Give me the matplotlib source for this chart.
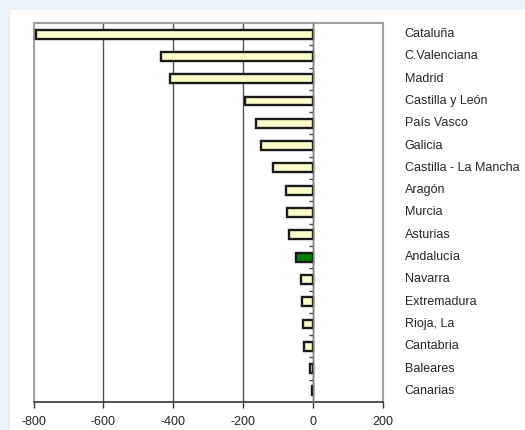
import matplotlib
matplotlib.use("Agg")
import matplotlib.pyplot as plt
from matplotlib.patches import Rectangle
import matplotlib.transforms as mtransforms
import numpy as np

regions = ["Cataluña", "C.Valenciana", "Madrid", "Castilla y León", "País Vasco",
           "Galicia", "Castilla - La Mancha", "Aragón", "Murcia", "Asturias",
           "Andalucía", "Navarra", "Extremadura", "Rioja, La", "Cantabria",
           "Baleares", "Canarias"]
values = [-793, -435, -409, -194, -162, -149, -113, -77, -73, -68,
          -48, -33, -31, -27, -25, -8, -2]
highlight = "Andalucía"
xticks = [-800, -600, -400, -200, 0, 200]

plt.rcParams['font.family'] = ['Liberation Sans', 'DejaVu Sans']

fig = plt.figure(figsize=(5.25, 4.3), dpi=100)
fig.patch.set_facecolor('#EAF2FA')
fig.patches.append(Rectangle((10/525, 0), 1, 1 - 10/430, transform=fig.transFigure,
                             facecolor='white', edgecolor='none', zorder=-10))

ax = fig.add_axes([33.5/525, 1 - 402/430, (382.5 - 33.5)/525, (402 - 23)/430])
ax.set_facecolor('white')

n = len(regions)
ypos = np.arange(n)
colors = ['#008000' if r == highlight else '#FFFFCC' for r in regions]
ax.barh(ypos, values, height=0.4, color=colors, edgecolor='#1a1a1a', linewidth=1.7, zorder=3)

ax.set_xlim(xticks[0], xticks[-1])
ax.set_ylim(n - 0.5, -0.5)
ax.set_xticks(xticks)
ax.set_xticklabels([str(t) for t in xticks], fontsize=9)
ax.tick_params(axis='x', direction='out', length=4, width=1, color='#333333', pad=6, labelcolor='#262626')

for t in xticks[1:-1]:
    ax.axvline(t, color='#555555', linewidth=1, zorder=1)

# spines
for s in ['top', 'right']:
    ax.spines[s].set_color('#a0a0a0')
    ax.spines[s].set_linewidth(1.5)
ax.spines['bottom'].set_color('#333333')
ax.spines['bottom'].set_linewidth(1.2)
ax.spines['left'].set_position(('data', 0))
ax.spines['left'].set_color('#808080')
ax.spines['left'].set_linewidth(1)
ax.spines['left'].set_zorder(4)
ax.add_patch(Rectangle((0, 0), 0, 1, transform=ax.transAxes, fill=False,
                       edgecolor='#a0a0a0', linewidth=1.5, clip_on=False, zorder=2))

ax.set_yticks(ypos[:-1] + 0.5)
ax.set_yticklabels([])
ax.tick_params(axis='y', direction='out', length=3, width=1, color='#444444')

trans = mtransforms.blended_transform_factory(ax.transAxes, ax.transData)
for y, r in zip(ypos, regions):
    ax.text(1 + 22/349, y, r, transform=trans, ha='left', va='center', fontsize=9, color='#262626')

fig.savefig("out.png", dpi=100, facecolor=fig.get_facecolor())
